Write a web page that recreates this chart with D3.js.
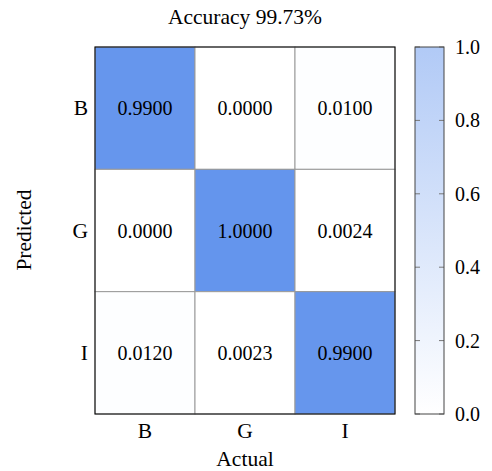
<!DOCTYPE html>
<html><head><meta charset="utf-8">
<script src="https://cdn.jsdelivr.net/npm/d3@7"></script>
<style>body{margin:0;background:#fff}text{font-family:"Liberation Serif","DejaVu Serif",serif;fill:#000}</style>
</head><body><svg id="c" width="492" height="471"></svg>
<script>
const predicted = ["B","G","I"];
const actual = ["B","G","I"];
const rowB = [0.99, 0.0, 0.01];
const rowG = [0.0, 1.0, 0.0024];
const rowI = [0.012, 0.0023, 0.99];
const colorTicks = [0.0, 0.2, 0.4, 0.6, 0.8, 1.0];
const title = "Accuracy 99.73%";

const rows = [rowB, rowG, rowI];
const cells = [];
rows.forEach((r,i)=>r.forEach((v,j)=>cells.push({p:predicted[i],a:actual[j],v})));

const svg = d3.select("#c");
const L=95,R=395,T=47,B=414;
const x = d3.scaleBand().domain(actual).range([L,R]);
const y = d3.scaleBand().domain(predicted).range([T,B]);
const col = d3.scaleLinear().domain([0,1]).range(["#ffffff","#6495ED"]);
const fsN = 20, fsW = 21.5;

svg.append("g").selectAll("rect").data(cells).join("rect")
  .attr("x",d=>x(d.a)).attr("y",d=>y(d.p)).attr("width",x.bandwidth()).attr("height",y.bandwidth())
  .attr("fill",d=>col(d.v)).attr("stroke","#999").attr("stroke-width",1);
svg.append("g").selectAll("text").data(cells).join("text")
  .attr("x",d=>x(d.a)+x.bandwidth()/2).attr("y",d=>y(d.p)+y.bandwidth()/2)
  .attr("text-anchor","middle").attr("dominant-baseline","central").attr("font-size",fsN)
  .text(d=>d.v.toFixed(4));
svg.append("rect").attr("x",L).attr("y",T).attr("width",R-L).attr("height",B-T)
  .attr("fill","none").attr("stroke","#000").attr("stroke-width",1);

// axes labels
svg.append("g").selectAll("text").data(actual).join("text")
  .attr("x",d=>x(d)+x.bandwidth()/2).attr("y",438).attr("text-anchor","middle").attr("font-size",fsW).text(d=>d);
svg.append("g").selectAll("text").data(predicted).join("text")
  .attr("x",88).attr("y",d=>y(d)+y.bandwidth()/2).attr("text-anchor","end").attr("dominant-baseline","central").attr("font-size",fsW).text(d=>d);
svg.append("text").attr("x",245).attr("y",466).attr("text-anchor","middle").attr("font-size",fsW).text("Actual");
svg.append("text").attr("transform","translate(31,230) rotate(-90)").attr("text-anchor","middle").attr("font-size",fsW).text("Predicted");
svg.append("text").attr("x",245).attr("y",24).attr("text-anchor","middle").attr("font-size",fsW).text(title);

// colorbar
const cbX=415,cbW=29;
const cy = d3.scaleLinear().domain([0,1]).range([B,T]);
const defs = svg.append("defs");
const g = defs.append("linearGradient").attr("id","cg").attr("x1",0).attr("y1",1).attr("x2",0).attr("y2",0);
g.append("stop").attr("offset","0%").attr("stop-color",col(0));
g.append("stop").attr("offset","100%").attr("stop-color",col(1));
svg.append("rect").attr("x",cbX).attr("y",T).attr("width",cbW).attr("height",B-T).attr("fill","url(#cg)").attr("fill-opacity",0.5);
const tk = svg.append("g");
tk.selectAll("line.l").data(colorTicks).join("line").attr("class","l")
  .attr("x1",cbX).attr("x2",cbX+5).attr("y1",d=>cy(d)).attr("y2",d=>cy(d)).attr("stroke","#777").attr("stroke-width",1);
tk.selectAll("line.r").data(colorTicks).join("line").attr("class","r")
  .attr("x1",cbX+cbW-5).attr("x2",cbX+cbW).attr("y1",d=>cy(d)).attr("y2",d=>cy(d)).attr("stroke","#777").attr("stroke-width",1);
svg.append("rect").attr("x",cbX).attr("y",T).attr("width",cbW).attr("height",B-T).attr("fill","none").attr("stroke","#444").attr("stroke-width",1);
tk.selectAll("text").data(colorTicks).join("text")
  .attr("x",455).attr("y",d=>cy(d)).attr("dominant-baseline","central").attr("font-size",fsN).text(d=>d.toFixed(1));
</script></body></html>
